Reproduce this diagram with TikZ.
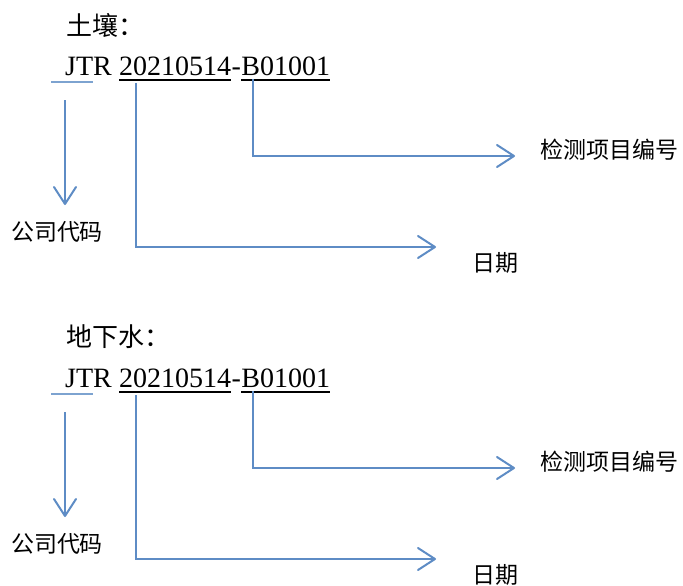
\documentclass[tikz,border=0pt]{standalone}
\usepackage{fontspec}
\setmainfont{Liberation Serif}
\newfontfamily\cjk{Noto Sans CJK SC}
\usetikzlibrary{arrows.meta}
\definecolor{arrowblue}{RGB}{94,140,197}
\definecolor{lightblue}{RGB}{125,163,208}
\begin{document}
\begin{tikzpicture}[x=1pt,y=-1pt,
  conn/.style={draw=arrowblue, line width=2pt},
  arr/.style={conn, -{Straight Barb[length=17pt,width=22pt,round]}},
  title/.style={font=\cjk\fontsize{26}{26}\selectfont, anchor=west, inner sep=0pt},
  lbl/.style={font=\cjk\fontsize{23}{23}\selectfont, inner sep=0pt},
  codetext/.style={font=\fontsize{28}{28}\selectfont, inner sep=0pt, anchor=base west},
  uline/.style={draw=black, line width=1.5pt},
  thinblue/.style={draw=lightblue, line width=1.5pt},
]
\useasboundingbox (0,0) rectangle (683,586);
\foreach \ttl/\o [count=\i] in {土壤：/0, 地下水：/312} {
  \node[title] (t\i) at (66,25+\o) {\ttl};
  \node[codetext] (jtr\i) at (65,75+\o) {JTR};
  \node[codetext] (dt\i) at (119,75+\o) {20210514};
  \node[codetext] (hy\i) at (dt\i.base east) {-};
  \node[codetext] (bc\i) at (hy\i.base east) {B01001};
  \draw[uline] ([shift={(0,5)}]dt\i.base west) -- ([shift={(0,5)}]dt\i.base east);
  \draw[uline] ([shift={(0,5)}]bc\i.base west) -- ([shift={(0,5)}]bc\i.base east);
  \draw[thinblue] (51,82+\o) -- (93,82+\o);
  % labels
  \node[lbl] (company\i) at (57,232+\o) {公司代码};
  \node[lbl] (date\i) at (495,263+\o) {日期};
  \node[lbl] (item\i) at (609,150+\o) {检测项目编号};
  % arrow points
  \coordinate (cs\i) at (65,100+\o);
  \coordinate (ce\i) at (65,205+\o);
  \coordinate (ds\i) at (136,83+\o);
  \coordinate (de\i) at (436,247+\o);
  \coordinate (is\i) at (253,79+\o);
  \coordinate (ie\i) at (515,156+\o);
  \draw[arr] (cs\i) -- (ce\i);
  \draw[arr] (ds\i) |- (de\i);
  \draw[arr] (is\i) |- (ie\i);
}
\end{tikzpicture}
\end{document}
